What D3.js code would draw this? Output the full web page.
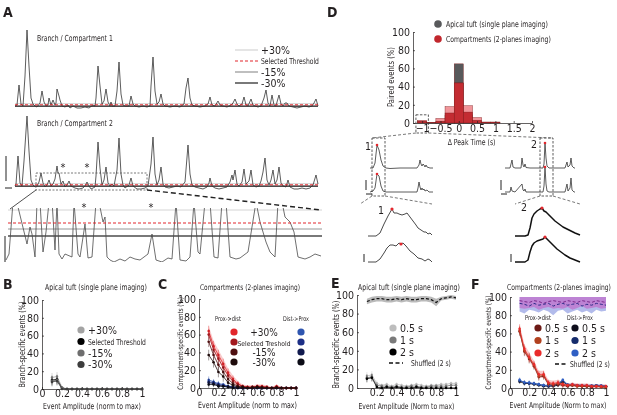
<!DOCTYPE html>
<html>
<head>
<meta charset="utf-8">
<script src="https://cdn.jsdelivr.net/npm/d3@7"></script>
<style>
  body { margin: 0; background: #fff; }
  svg { will-change: transform; }
  svg text { font-family: "Liberation Sans Narrow", "DejaVu Sans Condensed", sans-serif; fill: #231f20; }
  .axis path, .axis line { stroke: #231f20; stroke-width: 0.7; }
  .axis text { font-size: 10.5px; }
  .lbl { font-size: 10.5px; }
  .letter { font-size: 14px; font-weight: bold; }
</style>
</head>
<body>
<svg id="fig" width="617" height="415"></svg>
<script>
// ---- data ----

// A: calcium traces, [time, value] breakpoints (value in dF/F-ish units)
const trace1 = [[0,0],[2,1],[4,21],[6,2],[8,0],[10,30],[12,76],[14,40],[16,8],[18,2],[20,0],[22,-1],[25,3],[27,15],[29,4],[31,0],[33,1],[34,8],[36,1],[38,6],[40,1],[41,3],[42,17],[44,10],[45,6],[47,0],[50,-1],[53,1],[55,-2],[58,0],[62,-2],[66,-2],[70,-1],[74,-2],[78,1],[80,0],[81,8],[83,40],[85,20],[87,2],[89,5],[91,17],[93,4],[95,0],[96,4],[97,0],[100,0],[102,15],[104,44],[106,12],[108,1],[110,0],[114,0],[116,10],[118,2],[120,0],[124,-1],[128,0],[132,-1],[135,0],[136,20],[138,49],[140,15],[142,2],[144,4],[146,12],[148,2],[150,0],[155,-1],[160,0],[165,-1],[169,2],[171,18],[173,28],[175,8],[177,1],[180,0],[185,-1],[190,0],[193,2],[195,9],[197,1],[200,0],[203,5],[205,1],[208,0],[212,-1],[216,1],[218,3],[220,7],[222,2],[224,0],[227,2],[229,9],[231,1],[233,0],[236,7],[238,1],[240,0],[243,-1],[246,0],[249,8],[251,16],[253,3],[255,0],[257,11],[259,1],[261,0],[262,4],[264,11],[266,2],[268,0],[270,3],[272,3],[274,0],[278,-1],[282,-2],[286,-1],[290,0],[294,-1],[297,0],[299,3],[301,7],[303,0]];
const trace2 = [[0,0],[1,2],[3,30],[5,3],[7,0],[9,25],[12,70],[14,35],[16,6],[18,1],[20,-1],[22,0],[24,4],[26,13],[28,3],[30,-1],[32,1],[34,6],[36,0],[38,2],[40,7],[42,20],[43,13],[44,13],[46,2],[48,5],[50,-1],[52,1],[54,5],[56,0],[60,-2],[64,-3],[68,-2],[70,0],[72,4],[74,0],[76,-3],[80,-1],[81,10],[83,44],[85,18],[87,1],[89,6],[91,19],[93,3],[95,0],[97,2],[99,0],[102,16],[104,48],[106,12],[108,1],[110,-2],[114,1],[116,8],[118,0],[122,-3],[126,-3],[130,-2],[133,0],[136,22],[138,49],[140,12],[142,1],[144,6],[146,19],[148,2],[150,-1],[154,-2],[158,-1],[162,0],[166,-1],[170,4],[173,41],[175,12],[177,1],[180,-1],[184,-2],[188,-3],[192,-1],[194,3],[195,8],[197,0],[200,-2],[204,-3],[208,-2],[212,-1],[215,4],[217,11],[218,6],[220,16],[222,2],[224,0],[227,4],[229,17],[231,2],[234,5],[236,16],[238,1],[241,-1],[244,0],[246,5],[248,14],[250,28],[252,6],[254,1],[256,6],[258,16],[260,2],[262,6],[264,19],[266,3],[268,0],[271,-1],[273,6],[275,-1],[279,-3],[283,-3],[287,-2],[291,-3],[295,-2],[298,1],[301,11],[303,2]];
const zoomTrace = [[0,2],[3,8],[7,60],[12,55],[21,18],[24,35],[26,28],[29,5],[31,60],[34,60],[37,10],[40,30],[43,60],[46,62],[49,12],[51,60],[53,8],[56,3],[59,8],[66,5],[68,60],[72,8],[74,5],[79,38],[82,4],[86,5],[90,60],[94,55],[97,40],[99,45],[101,5],[104,2],[108,0],[114,3],[119,1],[124,5],[129,3],[134,2],[142,8],[146,28],[150,2],[156,0],[162,4],[166,3],[170,60],[174,2],[180,1],[184,5],[188,60],[192,10],[194,8],[199,60],[204,60],[208,5],[212,4],[216,60],[220,60],[224,5],[230,3],[234,4],[242,10],[250,60],[254,40],[260,20],[264,10],[269,5],[272,60],[276,60],[279,45],[284,40],[288,30],[292,5],[299,3],[304,5],[309,8],[315,6]];
const traceThresholds = [2.4, 1.2, 0.4, -0.4];   // +30%, selected, -15%, -30%
const zoomThresholds = [52, 39, 33, 26];
const thresholdNames = ["+30%", "Selected Threshold", "-15%", "-30%"];
const asteriskTimes = [48, 72];
const zoomAsteriskTimes = [78, 145];

// D: histogram of peak-time differences
const dtBins = [-1, -0.75, -0.5, -0.25, 0, 0.25, 0.5, 0.75, 1, 1.25];
const dtApical = [0, 0, 1, 8, 65, 9, 1, 0, 0, 0];
const dtCompLight = [3, 0.5, 5, 18, 44, 19, 6, 1, 1, 0];
const dtCompDark = [2, 0.5, 2, 11, 44, 12, 3, 1, 1, 0];
const dtTicks = [-1, -0.5, 0, 0.5, 1, 1.5, 2];

// D: example traces
const ex1Top = [[0,0],[3,0],[5,5],[7,23],[9,18],[11,8],[13,2],[16,0],[20,-0.5],[30,0],[40,0],[47,0],[49,3],[50,8],[51,4],[52,2],[53,4],[54,3],[55,1],[56,3],[57,1],[60,0],[63,0]];
const ex1Bot = [[0,0],[3,1],[5,4],[7,18],[9,16],[11,6],[13,1],[16,0],[30,0],[47,0],[48,4],[49,10],[50,5],[51,2],[52,4],[53,2],[54,3],[55,1],[57,2],[59,0],[63,0]];
const ex2Top = [[0,0],[5,0],[7,8],[8,1],[10,0],[16,0],[17,10],[18,3],[19,1],[20,4],[21,0.5],[25,0],[38,0],[39,4],[40,25],[41,10],[42,2],[44,0],[60,0],[62,6],[63,1],[65,3],[66,10],[67,2],[69,0],[70,0]];
const ex2Bot = [[0,0],[5,0],[6,5],[7,1],[10,0],[17,8],[18,2],[19,1],[20,3],[21,0],[38,0],[39,6],[40,25],[41,8],[42,1],[44,0],[60,0],[62,8],[63,1],[65,4],[66,14],[67,2],[69,0],[70,0]];
const ex1PeakTimes = [7, 7];
const ex2PeakTimes = [40, 40];
const big1Top = [[0,0],[8,0],[12,3],[16,12],[20,20],[24,27],[26,23],[29,23],[31,22],[34,21],[37,22],[39,23],[42,19],[45,15],[48,11],[50,8],[53,6],[56,4],[58,4],[60,2],[62,3],[64,1]];
const big1Bot = [[0,0],[8,0],[12,3],[16,9],[19,14],[22,17],[25,17],[28,16],[31,19],[33,18],[35,19],[38,16],[42,11],[46,8],[50,4],[54,3],[57,1],[60,3],[62,2],[64,0]];
const big2Top = [[0,0],[10,0],[13,1],[15,8],[17,18],[19,22],[22,25],[25,27],[27,28],[29,25],[31,24],[33,22],[36,19],[40,15],[44,12],[48,9],[52,7],[56,5],[60,3],[65,1]];
const big2Bot = [[0,0],[10,0],[13,2],[15,10],[17,16],[19,19],[22,21],[25,22],[28,23],[30,25],[32,23],[35,20],[38,17],[42,13],[46,10],[50,7],[55,4],[60,2],[65,0]];
const big1PeakTimes = [24, 33];
const big2PeakTimes = [27, 30];

// B, C, E, F: event amplitude bins
const ampBins = [0.1, 0.15, 0.2, 0.25, 0.3, 0.35, 0.4, 0.45, 0.5, 0.55, 0.6, 0.65, 0.7, 0.75, 0.8, 0.85, 0.9, 0.95, 1.0];
const pctTicks = [0, 20, 40, 60, 80, 100];
const ampTicks = [0, 0.2, 0.4, 0.6, 0.8, 1];

const bPlus30 = [13, 14, 2, 0, 0, 0, 0, 0, 0, 0, 0, 0, 0, 0, 0, 0, 0, 0, 0];
const bSelected = [10, 11, 1, 0, 0, 0, 0, 0, 0, 0, 0, 0, 0, 0, 0, 0, 0, 0, 0];
const bMinus15 = [9, 10, 1, 0, 0, 0, 0, 0, 0, 0, 0, 0, 0, 0, 0, 0, 0, 0, 0];
const bMinus30 = [8, 9, 0, 0, 0, 0, 0, 0, 0, 0, 0, 0, 0, 0, 0, 0, 0, 0, 0];
const bErr = [5, 5, 1, 0, 0, 0, 0, 0, 0, 0, 0, 0, 0, 0, 0, 0, 0, 0, 0];

const cProxPlus30 = [64, 47, 37, 27, 17, 10, 5, 2, 1, 1, 2, 2, 1, 0, 2, 0, 0, 0, 0];
const cProxSelected = [60, 43, 33, 23, 14, 8, 4, 2, 1, 1, 2, 1, 1, 0, 1, 0, 0, 0, 0];
const cProxMinus15 = [52, 37, 26, 18, 10, 5, 2, 1, 0, 1, 1, 1, 0, 0, 1, 0, 0, 0, 0];
const cProxMinus30 = [37, 29, 18, 13, 6, 3, 1, 1, 0, 0, 1, 0, 0, 0, 0, 0, 0, 0, 0];
const cDistPlus30 = [9, 7, 5, 4, 2, 1, 1, 0, 0, 0, 0, 0, 0, 0, 0, 0, 0, 0, 0];
const cDistSelected = [7, 6, 4, 3, 2, 1, 0, 0, 0, 0, 0, 0, 0, 0, 0, 0, 0, 0, 0];
const cDistMinus15 = [6, 5, 3, 2, 1, 1, 0, 0, 0, 0, 0, 0, 0, 0, 0, 0, 0, 0, 0];
const cDistMinus30 = [4, 4, 2, 2, 1, 0, 0, 0, 0, 0, 0, 0, 0, 0, 0, 0, 0, 0, 0];
const cErr = [6, 6, 6, 6, 5, 4, 3, 2, 2, 2, 2, 2, 2, 1, 2, 1, 1, 1, 1];
const cDistErr = [4, 3, 3, 2, 2, 1, 1, 1, 1, 0, 0, 0, 0, 0, 0, 0, 0, 0, 0];

const e05s = [13, 14, 5, 3, 4, 2, 4, 3, 2, 3, 4, 3, 2, 3, 3, 4, 4, 5, 5];
const e1s = [11, 12, 3, 2, 2, 1, 2, 1, 1, 2, 2, 1, 1, 2, 2, 2, 2, 3, 3];
const e2s = [10, 11, 1, 0, 1, 0, 1, 0, 0, 0, 1, 0, 0, 0, 0, 0, 0, 0, 0];
const eErr = [4, 4, 3, 2, 2, 2, 2, 2, 2, 2, 2, 2, 2, 2, 2, 2, 2, 2, 2];
const eShuffled = [93, 95, 96, 96, 95, 95, 96, 95, 96, 95, 95, 96, 96, 95, 92, 96, 97, 98, 97];
const eShuffledErr = [3, 3, 3, 3, 3, 3, 3, 3, 3, 3, 3, 3, 3, 3, 4, 2, 2, 2, 2];

const fProx05 = [62, 40, 32, 24, 12, 13, 4, 3, 4, 3, 2, 3, 2, 2, 2, 1, 2, 1, 1];
const fProx1 = [63, 41, 33, 25, 13, 14, 5, 4, 5, 4, 3, 3, 2, 2, 2, 2, 2, 1, 1];
const fProx2 = [65, 43, 34, 26, 15, 15, 6, 5, 6, 4, 3, 4, 3, 3, 3, 2, 2, 2, 2];
const fDist05 = [7, 5, 5, 4, 3, 2, 2, 2, 3, 7, 3, 3, 3, 2, 2, 2, 2, 2, 2];
const fDist1 = [8, 6, 5, 5, 4, 3, 2, 3, 4, 8, 3, 3, 3, 3, 2, 2, 3, 2, 2];
const fDist2 = [9, 6, 6, 5, 4, 3, 3, 3, 5, 9, 4, 4, 3, 3, 3, 3, 3, 3, 2];
const fErr = [5, 5, 5, 4, 4, 4, 3, 3, 3, 3, 2, 2, 2, 2, 2, 2, 2, 2, 2];
const fShufProx = [96, 95, 94, 96, 95, 93, 95, 96, 95, 94, 96, 95, 94, 96, 95, 94, 96, 95, 94];
const fShufDist = [93, 92, 90, 93, 91, 92, 93, 90, 92, 93, 91, 92, 93, 90, 92, 91, 93, 92, 91];
const fBandProxLo = [88, 87, 88, 89, 86, 88, 89, 87, 88, 87, 89, 86, 88, 90, 87, 88, 89, 87, 88];
const fBandDistLo = [84, 82, 86, 85, 83, 86, 84, 80, 85, 86, 82, 84, 86, 83, 85, 82, 86, 84, 85];

// ---- drawing ----
const svg = d3.select("#fig");
const RED = "#e2272d";

// text helper; with o.w the font is shrunk until the text fits that width,
// then stretched a little vertically to mimic the condensed face of the figure
function label(g, x, y, s, o = {}) {
  const t = g.append("text").attr("x", x).attr("y", y).attr("class", o.cls || "lbl").text(s);
  if (o.anchor) t.attr("text-anchor", o.anchor);
  if (o.size) t.style("font-size", o.size + "px");
  let tf = o.rot ? `rotate(-90,${x},${y})` : "";
  if (o.w) {
    const base = parseFloat(getComputedStyle(t.node()).fontSize);
    const natural = t.node().getComputedTextLength();
    if (natural > o.w) {
      t.style("font-size", (base * o.w / natural).toFixed(2) + "px");
      if (!o.flat) tf += ` translate(${x},${y}) scale(1,1.22) translate(${-x},${-y})`;
    }
  }
  if (tf) t.attr("transform", tf.trim());
  return t;
}

function tracePath(g, data, x, y, color, width) {
  return g.append("path").datum(data)
    .attr("fill", "none").attr("stroke", color).attr("stroke-width", width)
    .attr("stroke-linejoin", "round")
    .attr("d", d3.line().x(d => x(d[0])).y(d => y(d[1])));
}

function valueAt(data, t) {
  return data.find(d => d[0] === t)[1];
}

// Panel A
const gA = svg.append("g");
label(gA, 3, 17, "A", { cls: "letter" });
const xA = d3.scaleLinear().domain([0, 303]).range([15, 318]);
const yA1 = d3.scaleLinear().domain([0, 76]).range([106, 30]);
const yA2 = d3.scaleLinear().domain([0, 70]).range([186, 116]);
const thrStyle = [
  { color: "#cfcfcf", w: 0.9, dash: null },
  { color: RED, w: 1, dash: "3,2" },
  { color: "#8a8a8a", w: 0.9, dash: null },
  { color: "#4d4d4d", w: 1.3, dash: null },
];

function thresholdLines(g, x, y, levels, order) {
  order.forEach(i => {
    g.append("line")
      .attr("x1", x.range()[0]).attr("x2", x.range()[1])
      .attr("y1", y(levels[i])).attr("y2", y(levels[i]))
      .attr("stroke", thrStyle[i].color).attr("stroke-width", thrStyle[i].w)
      .attr("stroke-dasharray", thrStyle[i].dash);
  });
}

[[trace1, yA1], [trace2, yA2]].forEach(([tr, y]) => {
  thresholdLines(gA, xA, y, traceThresholds, [0, 2, 3]);
  tracePath(gA, tr, xA, y, "#333", 0.8);
  thresholdLines(gA, xA, y, traceThresholds, [1]);
});
label(gA, 37, 41, "Branch / Compartment 1", { w: 76 });
label(gA, 37, 126, "Branch / Compartment 2", { w: 76 });

// legend A
thresholdNames.forEach((n, i) => {
  const ly = 50 + i * 11;
  gA.append("line").attr("x1", 235).attr("x2", 258).attr("y1", ly).attr("y2", ly)
    .attr("stroke", thrStyle[i].color).attr("stroke-width", thrStyle[i].w + 0.2)
    .attr("stroke-dasharray", thrStyle[i].dash);
  label(gA, 261, ly + 3.5, n, n.length > 6 ? { w: 58 } : {});
});

// asterisks on trace 2
asteriskTimes.forEach(t => label(gA, xA(t), yA2(15), "*", { anchor: "middle", size: 11 }));

// dashed selection box on trace 2
const boxT = [21, 132];
gA.append("rect")
  .attr("x", xA(boxT[0])).attr("y", yA2(13))
  .attr("width", xA(boxT[1]) - xA(boxT[0])).attr("height", yA2(-4) - yA2(13))
  .attr("fill", "none").attr("stroke", "#555").attr("stroke-width", 0.8).attr("stroke-dasharray", "2,1.5");

// scale bars
gA.append("path").attr("d", `M6,${yA2(30)}V${yA2(5)}M5,${yA2(-2)}H12`).attr("stroke", "#222").attr("fill", "none");

// zoomed segment
const xZ = d3.scaleLinear().domain([0, 315]).range([6, 321]);
const yZ = d3.scaleLinear().domain([0, 54]).range([262, 208]);
svg.append("defs").append("clipPath").attr("id", "zclip")
  .append("rect").attr("x", 0).attr("y", yZ(54)).attr("width", 330).attr("height", yZ(0) - yZ(54));
const gZ = gA.append("g").attr("clip-path", "url(#zclip)");
thresholdLines(gZ, d3.scaleLinear().range([8, 322]), yZ, zoomThresholds, [0, 2, 3]);
tracePath(gZ, zoomTrace, xZ, yZ, "#4a4a4a", 0.8);
thresholdLines(gZ, d3.scaleLinear().range([8, 322]), yZ, zoomThresholds, [1]);
zoomAsteriskTimes.forEach(t => label(gA, xZ(t), yZ(52) + 1, "*", { anchor: "middle", size: 11 }));
gA.append("line").attr("x1", xA(boxT[0])).attr("y1", yA2(-4)).attr("x2", xZ(4)).attr("y2", yZ(53))
  .attr("stroke", "#222").attr("stroke-width", 0.8);
gA.append("line").attr("x1", xA(boxT[1])).attr("y1", yA2(-4)).attr("x2", xZ(315)).attr("y2", yZ(52))
  .attr("stroke", "#222").attr("stroke-width", 1.4).attr("stroke-dasharray", "5,3");
gA.append("line").attr("x1", 5).attr("x2", 5).attr("y1", yZ(26)).attr("y2", yZ(0)).attr("stroke", "#222");

// Panel D
const gD = svg.append("g");
label(gD, 327, 17, "D", { cls: "letter" });
const xH = d3.scaleLinear().domain([-1.25, 2]).range([413, 532]);
const yH = d3.scaleLinear().domain([0, 100]).range([123, 32]);
const binW = 0.25;
[[dtApical, "#58595b", 1], [dtCompLight, "#ef8a8f", 0.9], [dtCompDark, "#c1272d", 0.95]].forEach(([vals, col, op]) => {
  gD.selectAll(null).data(dtBins.map((b, i) => ({ b, v: vals[i] }))).join("rect")
    .attr("x", d => xH(d.b - binW / 2)).attr("width", xH(binW) - xH(0))
    .attr("y", d => yH(d.v)).attr("height", d => yH(0) - yH(d.v))
    .attr("fill", col).attr("fill-opacity", op)
    .attr("stroke", "#7a1a1a").attr("stroke-width", 0.4);
});
gD.append("g").attr("class", "axis").attr("transform", `translate(0,${yH(0)})`)
  .call(d3.axisBottom(xH).tickValues(dtTicks).tickSizeInner(-2).tickSizeOuter(0).tickPadding(2).tickFormat(d3.format("~g")))
  .call(g => g.attr("font-family", null).attr("font-size", null));
gD.append("g").attr("class", "axis").attr("transform", `translate(${xH.range()[0]},0)`)
  .call(d3.axisLeft(yH).tickValues(pctTicks).tickSizeInner(-2).tickSizeOuter(0).tickPadding(3))
  .call(g => g.attr("font-family", null).attr("font-size", null));
label(gD, xH(0.35), yH(0) + 22, "Δ Peak Time (s)", { anchor: "middle", w: 48 });
label(gD, 394, 77, "Paired events (%)", { anchor: "middle", rot: true, w: 60 });
gD.append("circle").attr("cx", 438).attr("cy", 24).attr("r", 3.8).attr("fill", "#58595b");
label(gD, 446, 27.5, "Apical tuft (single plane imaging)", { w: 102 });
gD.append("circle").attr("cx", 438).attr("cy", 39).attr("r", 3.8).attr("fill", "#c1272d");
label(gD, 446, 42.5, "Compartments (2-planes imaging)", { w: 105 });
// box around the -1 bin
const hBox = { x0: xH(-1.17), x1: xH(-0.83), y0: yH(9), y1: yH(0) + 10 };
gD.append("rect").attr("x", hBox.x0).attr("y", hBox.y0).attr("width", hBox.x1 - hBox.x0).attr("height", hBox.y1 - hBox.y0)
  .attr("fill", "none").attr("stroke", "#333").attr("stroke-width", 0.8).attr("stroke-dasharray", "2.5,1.5");

// example traces
const xD1 = d3.scaleLinear().domain([0, 63]).range([370, 433]);
const xD2 = d3.scaleLinear().domain([0, 70]).range([505, 575]);
const yDtop = d3.scaleLinear().domain([0, 25]).range([168, 143]);
const yDbot = d3.scaleLinear().domain([0, 25]).range([192, 167]);
tracePath(gD, ex1Top, xD1, yDtop, "#333", 0.8);
tracePath(gD, ex1Bot, xD1, yDbot, "#333", 0.8);
tracePath(gD, ex2Top, xD2, yDtop, "#333", 0.8);
tracePath(gD, ex2Bot, xD2, yDbot, "#333", 0.8);
[[ex1Top, xD1, yDtop, ex1PeakTimes[0]], [ex1Bot, xD1, yDbot, ex1PeakTimes[1]],
 [ex2Top, xD2, yDtop, ex2PeakTimes[0]], [ex2Bot, xD2, yDbot, ex2PeakTimes[1]]].forEach(([tr, x, y, t]) => {
  gD.append("circle").attr("cx", x(t)).attr("cy", y(valueAt(tr, t))).attr("r", 1.3).attr("fill", RED);
});
const ex1Box = { x0: xD1(2), x1: xD1(15), y0: yDtop(30), y1: yDbot(-4) };
const ex2Box = { x0: xD2(35), x1: xD2(48), y0: yDtop(30), y1: yDbot(-4) };
[ex1Box, ex2Box].forEach(b => {
  gD.append("rect").attr("x", b.x0).attr("y", b.y0).attr("width", b.x1 - b.x0).attr("height", b.y1 - b.y0)
    .attr("fill", "none").attr("stroke", "#333").attr("stroke-width", 0.8).attr("stroke-dasharray", "2.5,1.5");
});
label(gD, ex1Box.x0 - 7, yDtop(18), "1", { size: 10.5 });
label(gD, ex2Box.x0 - 9, yDtop(20), "2", { size: 10.5 });
const dash = (x1, y1, x2, y2) => gD.append("line").attr("x1", x1).attr("y1", y1).attr("x2", x2).attr("y2", y2)
  .attr("stroke", "#555").attr("stroke-width", 0.8).attr("stroke-dasharray", "3,2");
dash(hBox.x0, hBox.y1, ex1Box.x0, ex1Box.y0);
dash(hBox.x1, hBox.y1, ex2Box.x1, ex2Box.y0);
// enlarged peaks
const xE1 = d3.scaleLinear().domain([0, 64]).range([368, 432]);
const xE2 = d3.scaleLinear().domain([0, 65]).range([515, 580]);
const yEtop = d3.scaleLinear().domain([0, 30]).range([236, 206]);
const yEbot = d3.scaleLinear().domain([0, 30]).range([262, 232]);
dash(ex1Box.x0, ex1Box.y1, xE1(-8), yEtop(30) - 2);
dash(ex1Box.x1, ex1Box.y1, xE1(64), yEtop(30) - 2);
dash(ex2Box.x0, ex2Box.y1, xE2(0), yEtop(30) - 2);
dash(ex2Box.x1, ex2Box.y1, xE2(65), yEtop(30) - 2);
tracePath(gD, big1Top, xE1, yEtop, "#333", 0.9);
tracePath(gD, big1Bot, xE1, yEbot, "#333", 0.9);
tracePath(gD, big2Top, xE2, yEtop, "#111", 1.5);
tracePath(gD, big2Bot, xE2, yEbot, "#111", 1.5);
[[big1Top, xE1, yEtop, big1PeakTimes[0]], [big1Bot, xE1, yEbot, big1PeakTimes[1]],
 [big2Top, xE2, yEtop, big2PeakTimes[0]], [big2Bot, xE2, yEbot, big2PeakTimes[1]]].forEach(([tr, x, y, t]) => {
  gD.append("circle").attr("cx", x(t)).attr("cy", y(valueAt(tr, t))).attr("r", 1.6).attr("fill", RED);
});
label(gD, xE1(10), yEtop(22), "1", { size: 10.5 });
label(gD, xE2(6), yEtop(25), "2", { size: 10.5 });
// small scale bars
gD.append("path").attr("d", `M${xD1(-4)},${yDbot(12)}V${yDbot(2)}M${xD1(-4)},${yDbot(-2)}H${xD1(2)}`).attr("stroke", "#222").attr("fill", "none");
gD.append("path").attr("d", `M${xD2(-4)},${yDbot(12)}V${yDbot(2)}M${xD2(-4)},${yDbot(-2)}H${xD2(2)}`).attr("stroke", "#222").attr("fill", "none");
gD.append("path").attr("d", `M${xE1(-4)},${yEbot(8)}V${yEbot(0)}`).attr("stroke", "#222").attr("fill", "none");
gD.append("path").attr("d", `M${xE2(-4)},${yEbot(8)}V${yEbot(0)}`).attr("stroke", "#222").attr("fill", "none");

// Panels B, C, E, F
function makePanel(p) {
  const x = d3.scaleLinear().domain([0, 1]).range(p.xRange);
  const y = d3.scaleLinear().domain([0, 100]).range(p.yRange);
  const g = svg.append("g");
  label(g, p.letter[1], p.letter[2], p.letter[0], { cls: "letter" });
  g.append("g").attr("class", "axis").attr("transform", `translate(0,${p.yRange[0]})`)
    .call(d3.axisBottom(x).tickValues(p.xTicks).tickSizeInner(-2).tickSizeOuter(0).tickPadding(1).tickFormat(d3.format("~g")))
    .call(a => a.attr("font-family", null).attr("font-size", null));
  g.append("g").attr("class", "axis").attr("transform", `translate(${p.xRange[0]},0)`)
    .call(d3.axisLeft(y).tickValues(pctTicks).tickSizeInner(-2).tickSizeOuter(0).tickPadding(3))
    .call(a => a.attr("font-family", null).attr("font-size", null));
  label(g, p.titleX, p.titleY, p.title, { anchor: "middle", w: p.titleW });
  label(g, d3.mean(p.xRange), p.yRange[0] + p.xLabDy, p.xLabel, { anchor: "middle", w: p.xLabW });
  label(g, p.yLabX, d3.mean(p.yRange) + (p.yLabShift || 0), p.yLabel, { anchor: "middle", rot: true, w: p.yLabW });
  return { g, x, y };
}

function band(P, lo, hi, color, op) {
  const pts = ampBins.map((a, i) => ({ a, lo: lo[i], hi: hi[i] }));
  P.g.append("path").datum(pts).attr("fill", color).attr("fill-opacity", op)
    .attr("d", d3.area().x(d => P.x(d.a)).y0(d => P.y(d.lo)).y1(d => P.y(d.hi)));
}

function series(P, vals, color, err, o = {}) {
  const pts = ampBins.map((a, i) => ({ a, v: vals[i], e: err ? err[i] : 0 }));
  P.g.append("path").datum(pts).attr("fill", "none").attr("stroke", color)
    .attr("stroke-width", o.lw || 0.8).attr("stroke-dasharray", o.dash || null)
    .attr("d", d3.line().x(d => P.x(d.a)).y(d => P.y(d.v)));
  if (o.dash) return;
  if (err) {
    P.g.selectAll(null).data(pts.filter(d => d.e > 0)).join("line")
      .attr("x1", d => P.x(d.a)).attr("x2", d => P.x(d.a))
      .attr("y1", d => P.y(d.v + d.e)).attr("y2", d => P.y(Math.max(0, d.v - d.e)))
      .attr("stroke", color).attr("stroke-width", 0.6).attr("stroke-opacity", 0.7);
  }
  P.g.selectAll(null).data(pts).join("circle")
    .attr("cx", d => P.x(d.a)).attr("cy", d => P.y(d.v)).attr("r", o.r || 1.3).attr("fill", color);
}

function legendDot(g, x, y, color, text, o = {}) {
  g.append("circle").attr("cx", x).attr("cy", y).attr("r", 3.6).attr("fill", color);
  if (text) label(g, x + 7, y + 3.5, text, o);
}

// B
const PB = makePanel({
  letter: ["B", 3, 289], xRange: [42, 142], yRange: [389, 300], xTicks: ampTicks,
  title: "Apical tuft (single plane imaging)", titleX: 96, titleY: 290, titleW: 102,
  xLabel: "Event Amplitude (norm to max)", xLabDy: 20, xLabW: 98,
  yLabel: "Branch-specific events (%)", yLabX: 25, yLabW: 86,
});
const bColors = ["#a3a3a3", "#000000", "#6e6e6e", "#3d3d3d"];
[bPlus30, bSelected, bMinus15, bMinus30].forEach((s, i) => series(PB, s, bColors[i], bErr));
thresholdNames.forEach((n, i) => legendDot(PB.g, 81, 330 + i * 11.5, bColors[i], n, n.length > 6 ? { w: 58 } : {}));

// C
const PC = makePanel({
  letter: ["C", 158, 289], xRange: [199, 296], yRange: [388, 299], xTicks: ampTicks,
  title: "Compartments (2-planes imaging)", titleX: 250, titleY: 290, titleW: 100,
  xLabel: "Event Amplitude (norm to max)", xLabDy: 20, xLabW: 99,
  yLabel: "Compartment-specific events (%)", yLabX: 183, yLabW: 93,
});
const cRed = ["#e2262b", "#a3191e", "#4f0f10", "#1e0b0b"];
const cBlue = ["#2f56b0", "#1d2f86", "#111a4e", "#0b0b16"];
band(PC, cProxPlus30.map((v, i) => Math.max(0, v - cErr[i])), cProxPlus30.map((v, i) => v + cErr[i]), "#f4a6a8", 0.6);
[cDistPlus30, cDistSelected, cDistMinus15, cDistMinus30].forEach((s, i) => series(PC, s, cBlue[i], cDistErr));
[cProxPlus30, cProxSelected, cProxMinus15, cProxMinus30].forEach((s, i) => series(PC, s, cRed[i], cErr));
label(PC.g, 215, 321, "Prox->dist", { w: 26 });
label(PC.g, 283, 321, "Dist->Prox", { w: 26 });
["+30%", "Selected Treshold", "-15%", "-30%"].forEach((n, i) => {
  const ly = 332 + i * 10;
  legendDot(PC.g, 234, ly, cRed[i]);
  legendDot(PC.g, 301, ly, cBlue[i]);
  label(PC.g, 264, ly + 3.5, n, n.length > 6 ? { anchor: "middle", w: 53, flat: true } : { anchor: "middle", size: 10 });
});

// E
const PE = makePanel({
  letter: ["E", 331, 288], xRange: [357, 456], yRange: [388, 295], xTicks: ampTicks.slice(1),
  title: "Apical tuft (single plane imaging)", titleX: 409, titleY: 290, titleW: 102,
  xLabel: "Event Amplitude (Norm to max)", xLabDy: 21, xLabW: 96,
  yLabel: "Branch-specific events (%)", yLabX: 339, yLabW: 88, yLabShift: 3,
});
band(PE, eShuffled.map((v, i) => v - eShuffledErr[i]), eShuffled.map((v, i) => v + eShuffledErr[i]), "#9d9d9d", 0.7);
series(PE, eShuffled, "#111", null, { dash: "3,2", lw: 1.2 });
const eColors = ["#bdbdbd", "#7a7a7a", "#000000"];
[e05s, e1s, e2s].forEach((s, i) => series(PE, s, eColors[i], eErr));
["0.5 s", "1 s", "2 s"].forEach((n, i) => legendDot(PE.g, 393, 328 + i * 12, eColors[i], n));
PE.g.append("line").attr("x1", 389).attr("x2", 403).attr("y1", 363).attr("y2", 363)
  .attr("stroke", "#111").attr("stroke-width", 1.3).attr("stroke-dasharray", "4,2.5");
label(PE.g, 411, 366.5, "Shuffled (2 s)", { w: 40 });

// F
const PF = makePanel({
  letter: ["F", 471, 289], xRange: [510, 606], yRange: [388, 297], xTicks: ampTicks,
  title: "Compartments (2-planes imaging)", titleX: 559, titleY: 290, titleW: 104,
  xLabel: "Event Amplitude (Norm to max)", xLabDy: 20, xLabW: 97,
  yLabel: "Compartment-specific events (%)", yLabX: 491, yLabW: 94,
});
const fullTop = ampBins.map(() => 100);
band(PF, fBandDistLo, fullTop, "#98a4e4", 0.75);
band(PF, fBandProxLo, fullTop, "#c45ec4", 0.6);
series(PF, fShufProx, "#7a2a8c", null, { dash: "3,2", lw: 1 });
series(PF, fShufDist, "#2a2a86", null, { dash: "3,2", lw: 1 });
band(PF, fProx2.map((v, i) => Math.max(0, v - fErr[i])), fProx2.map((v, i) => v + fErr[i]), "#f4a6a8", 0.6);
const fRed = ["#6d1a16", "#b2411f", "#ea2b2b"];
const fBlue = ["#0e0e1c", "#152c6c", "#2f5fc4"];
[fDist05, fDist1, fDist2].forEach((s, i) => series(PF, s, fBlue[i], fErr.map(e => e * 0.5)));
[fProx05, fProx1, fProx2].forEach((s, i) => series(PF, s, fRed[i], fErr));
label(PF.g, 525, 320, "Prox->dist", { w: 26 });
label(PF.g, 567, 320, "Dist->Prox", { w: 26 });
["0.5 s", "1 s", "2 s"].forEach((n, i) => {
  const ly = 328 + i * 12.5;
  legendDot(PF.g, 538, ly, fRed[i], n);
  legendDot(PF.g, 575, ly, fBlue[i], n);
});
PF.g.append("line").attr("x1", 555).attr("x2", 566).attr("y1", 364).attr("y2", 364)
  .attr("stroke", "#111").attr("stroke-width", 1.3).attr("stroke-dasharray", "4,2.5");
label(PF.g, 570, 367.5, "Shuffled (2 s)", { w: 40 });
</script>
</body>
</html>
